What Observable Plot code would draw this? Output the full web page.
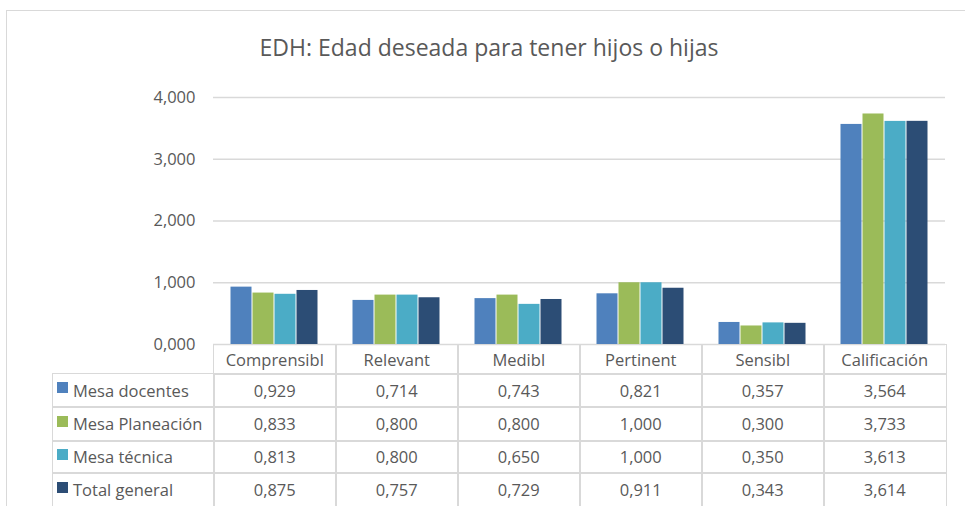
<!DOCTYPE html>
<html><head><meta charset="utf-8">
<script src="https://cdn.jsdelivr.net/npm/d3@7"></script>
<script src="https://cdn.jsdelivr.net/npm/@observablehq/plot@0.6"></script>
<style>
html,body{margin:0;padding:0;background:#fff;}
#wrap{position:relative;width:965px;height:506px;overflow:hidden;font-family:"Open Sans",Lato,sans-serif;color:#595959;}
#frame{position:absolute;left:6px;top:10px;width:1000px;height:600px;border:1.5px solid #d9d9d9;box-sizing:border-box;}
#title{position:absolute;left:0;width:978px;top:31px;text-align:center;font-size:23px;}
#chart{position:absolute;left:0;top:0;}
.cell{position:absolute;box-sizing:border-box;border:1.5px solid #d9d9d9;font-size:16.5px;text-align:center;display:flex;align-items:center;justify-content:center;white-space:nowrap;}
.lab{justify-content:flex-start;padding-left:4px;}
.sw{display:inline-block;width:11px;height:11px;margin-right:5px;margin-top:-5px;}
</style></head>
<body><div id="wrap"><div id="frame"></div><div id="title">EDH: Edad deseada para tener hijos o hijas</div><div id="chart"></div></div>
<script>
const categories = ["Comprensibl","Relevant","Medibl","Pertinent","Sensibl","Calificación"];
const series = ["Mesa docentes","Mesa Planeación","Mesa técnica","Total general"];
const colors = ["#4f81bd","#9bbb59","#4bacc6","#2c4d75"];
const mesaDocentes   = [0.929,0.714,0.743,0.821,0.357,3.564];
const mesaPlaneacion = [0.833,0.800,0.800,1.000,0.300,3.733];
const mesaTecnica    = [0.813,0.800,0.650,1.000,0.350,3.613];
const totalGeneral   = [0.875,0.757,0.729,0.911,0.343,3.614];
const yTicks = [0,1,2,3,4];

const valuesBySeries = [mesaDocentes,mesaPlaneacion,mesaTecnica,totalGeneral];
const data = [];
categories.forEach((c,i)=>series.forEach((s,j)=>data.push({category:c,series:s,value:valuesBySeries[j][i]})));
const fmt = v => d3.format(".3f")(v).replace(".",",");

const chart = Plot.plot({
  width:965, height:362,
  marginTop:97, marginBottom:18, marginLeft:211, marginRight:19,
  style:{fontFamily:"'Open Sans', Lato, sans-serif", fontSize:"16.5px", color:"#595959", background:"transparent"},
  fx:{domain:categories, axis:null, padding:0},
  x:{domain:series, axis:null, paddingInner:0, paddingOuter:0.75},
  y:{domain:[0,4], ticks:yTicks, tickFormat:fmt, tickSize:0, tickPadding:18, grid:false, label:null},
  color:{domain:series, range:colors},
  marks:[
    Plot.gridY(yTicks,{stroke:"#d9d9d9", strokeOpacity:1, strokeWidth:1.5}),
    Plot.axisY(yTicks,{tickSize:0, tickPadding:18, tickFormat:fmt, fontSize:16.5, fill:"#595959", label:null, facetAnchor:"left"}),
    Plot.barY(data,{fx:"category", x:"series", y:"value", fill:"series", insetLeft:0.5, insetRight:0.5})
  ]
});
document.getElementById("chart").appendChild(chart);

// table aligned with the fx scale
const fx = chart.scale("fx");
const bw = fx.bandwidth;
const wrap = document.getElementById("wrap");
const rowsY = [344,373,406,440,472,506];
function cell(x,y,w,h,html,cls){
  const d=document.createElement("div");
  d.className="cell"+(cls?" "+cls:"");
  Object.assign(d.style,{left:x+"px",top:y+"px",width:(w+1.5)+"px",height:(h+1.5)+"px"});
  d.innerHTML=html; wrap.appendChild(d);
}
categories.forEach(c=>cell(fx.apply(c),rowsY[0],bw,rowsY[1]-rowsY[0],c));
series.forEach((s,j)=>{
  const y0=rowsY[j+1], h=rowsY[j+2]-y0;
  cell(52,y0,fx.apply(categories[0])-52,h,`<span class="sw" style="background:${colors[j]}"></span>${s}`,"lab");
  categories.forEach((c,i)=>cell(fx.apply(c),y0,bw,h,fmt(valuesBySeries[j][i])));
});
</script></body></html>
